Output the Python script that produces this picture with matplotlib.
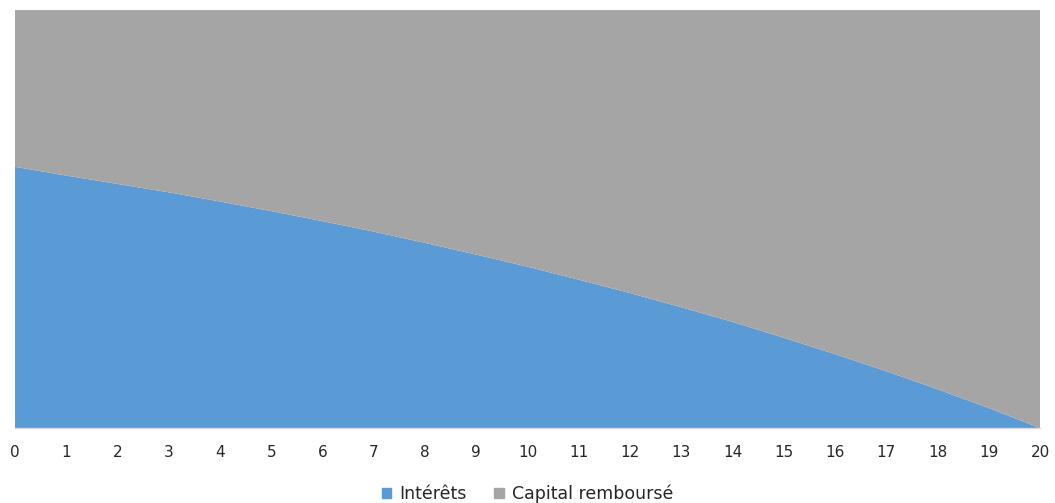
import matplotlib.pyplot as plt
from matplotlib.patches import Patch

# années du prêt
annees = list(range(21))
# part des intérêts dans l'échéance
interets = [0.625, 0.604, 0.584, 0.564, 0.542, 0.519, 0.495, 0.470, 0.443, 0.415,
            0.386, 0.355, 0.323, 0.289, 0.254, 0.216, 0.177, 0.136, 0.093, 0.048, 0.0]
capital = [1 - v for v in interets]
labels = ['Intérêts', 'Capital remboursé']
couleurs = ['#5B9BD5', '#A5A5A5']

plt.rcParams['font.family'] = ['DejaVu Sans']

fig = plt.figure(figsize=(10.55, 5.03), dpi=100)
ax = fig.add_axes([0.0142, 0.149, 0.9716, 0.831])
ax.stackplot(annees, interets, capital, colors=couleurs, linewidth=0)
ax.set_xlim(0, 20)
ax.set_ylim(0, 1)
ax.set_xticks(annees)
ax.set_yticks([])
ax.tick_params(axis='x', length=0, pad=12, labelsize=11, labelcolor='#262626')
for s in ['top', 'left', 'right']:
    ax.spines[s].set_visible(False)
ax.spines['bottom'].set_color('#D9D9D9')
ax.spines['bottom'].set_linewidth(1)

poignees = [Patch(color=c) for c in couleurs]
fig.legend(poignees, labels, loc='center', bbox_to_anchor=(0.5, 0.018), ncol=2,
           frameon=False, handlelength=0.57, handleheight=0.57, handletextpad=0.45,
           columnspacing=1.6, fontsize=12.5, labelcolor='#262626')

fig.savefig('out.png', dpi=100)
